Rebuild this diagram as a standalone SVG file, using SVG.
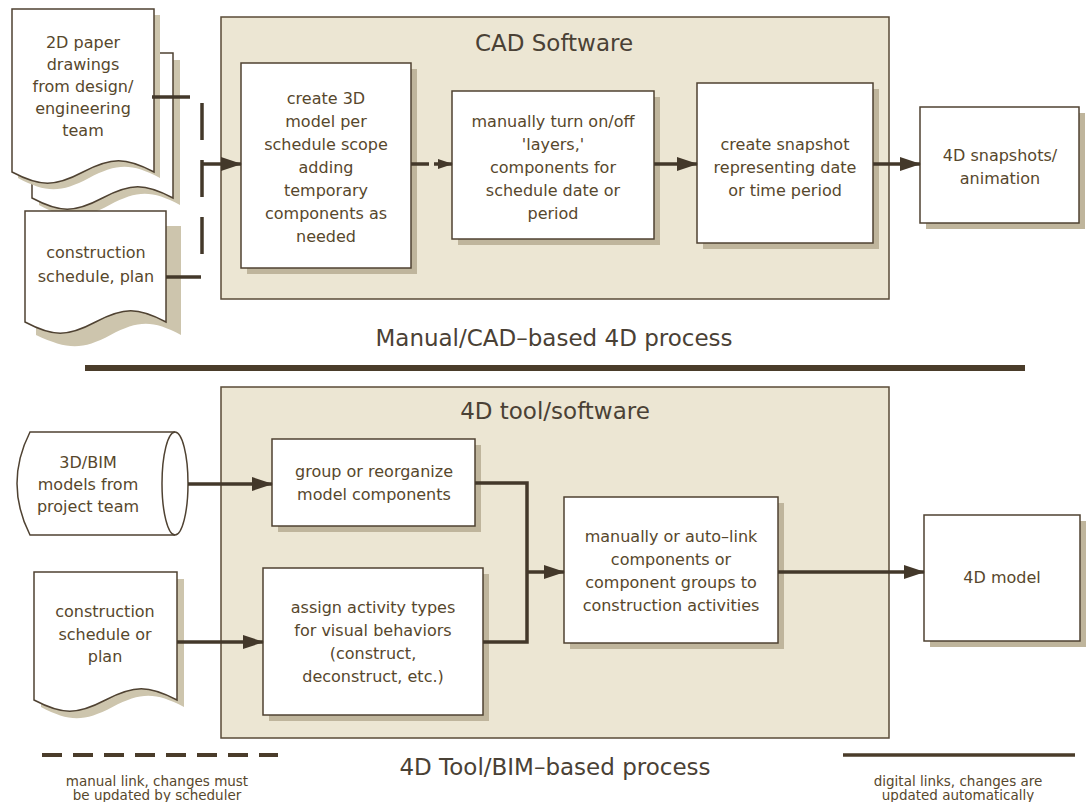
<svg xmlns="http://www.w3.org/2000/svg" width="1086" height="802" viewBox="0 0 1086 802">
  <style>
    .panel { fill: #ece6d3; stroke: #5a4b37; stroke-width: 1.5; }
    .box { fill: #ffffff; stroke: #4f4232; stroke-width: 1.5; }
    .shadow { fill: #bfb59c; }
    .shadow-doc { fill: #cdc5ad; }
    .link { fill: none; stroke: #43382a; stroke-width: 3.5; }
    .manual { fill: none; stroke: #43382a; stroke-width: 3.5; }
    .t { font-family: "DejaVu Sans", "Liberation Sans", sans-serif; font-size: 16px; fill: #57472c; text-anchor: middle; }
    .title { font-family: "DejaVu Sans", "Liberation Sans", sans-serif; font-size: 23px; fill: #4a4135; text-anchor: middle; }
    .small { font-family: "DejaVu Sans", "Liberation Sans", sans-serif; font-size: 13.5px; fill: #57472c; text-anchor: middle; }
  </style>
  <defs>
    <marker id="arrow" markerUnits="userSpaceOnUse" markerWidth="22" markerHeight="16" refX="20" refY="7" orient="auto">
      <path d="M0,0 L21,7 L0,14 Z" fill="#43382a"/>
    </marker>
    <marker id="arrow-small" markerUnits="userSpaceOnUse" markerWidth="16" markerHeight="12" refX="14" refY="5" orient="auto">
      <path d="M0,0 L15,5 L0,10 Z" fill="#43382a"/>
    </marker>
  </defs>

  <rect width="1086" height="802" fill="#ffffff"/>

  <!-- upper panel: manual / CAD-based process -->
  <g id="cad-panel">
    <rect class="panel" x="221" y="17" width="668" height="282"/>
    <text class="title" x="554" y="51">CAD Software</text>
  </g>

  <g id="doc-2d-drawings">
    <path class="shadow-doc" d="M39,60 H180 V205 C151.8,190 137.7,190 109.5,205 C81.3,220 67.2,220 39,205 Z"/>
    <path class="box" d="M32,53 H173 V198 C144.8,183 130.7,183 102.5,198 C74.3,213 60.2,213 32,198 Z"/>
    <path class="shadow-doc" d="M18,15 H160 V178 C131.6,163 117.4,163 89,178 C60.6,193 46.4,193 18,178 Z"/>
    <path class="box" d="M12,9 H154 V172 C125.6,157 111.4,157 83,172 C54.6,187 40.4,187 12,172 Z"/>
    <text class="t" x="83" y="48">2D paper</text>
    <text class="t" x="83" y="70">drawings</text>
    <text class="t" x="83" y="92">from design/</text>
    <text class="t" x="83" y="114">engineering</text>
    <text class="t" x="83" y="136">team</text>
  </g>

  <g id="doc-schedule-plan">
    <path class="shadow-doc" d="M36,226 H181 V335 C152.8,320 138.7,320 110.5,335 C82.3,350 68.2,350 36,335 Z"/>
    <path class="box" d="M25,211 H166 V322 C137.8,307 123.7,307 95.5,322 C67.3,337 53.2,337 25,322 Z"/>
    <text class="t" x="96" y="258">construction</text>
    <text class="t" x="96" y="282">schedule, plan</text>
  </g>

  <g id="create-3d-model">
    <rect class="shadow" x="247" y="69" width="170" height="205"/>
    <rect class="box" x="241" y="63" width="170" height="205"/>
    <text class="t" x="326" y="104">create 3D</text>
    <text class="t" x="326" y="127">model per</text>
    <text class="t" x="326" y="150">schedule scope</text>
    <text class="t" x="326" y="173">adding</text>
    <text class="t" x="326" y="196">temporary</text>
    <text class="t" x="326" y="219">components as</text>
    <text class="t" x="326" y="242">needed</text>
  </g>

  <g id="toggle-layers">
    <rect class="shadow" x="458" y="97" width="202" height="148"/>
    <rect class="box" x="452" y="91" width="202" height="148"/>
    <text class="t" x="553" y="127">manually turn on/off</text>
    <text class="t" x="553" y="150">'layers,'</text>
    <text class="t" x="553" y="173">components for</text>
    <text class="t" x="553" y="196">schedule date or</text>
    <text class="t" x="553" y="219">period</text>
  </g>

  <g id="create-snapshot">
    <rect class="shadow" x="703" y="89" width="176" height="160"/>
    <rect class="box" x="697" y="83" width="176" height="160"/>
    <text class="t" x="785" y="150">create snapshot</text>
    <text class="t" x="785" y="173">representing date</text>
    <text class="t" x="785" y="196">or time period</text>
  </g>

  <g id="snapshots-animation">
    <rect class="shadow" x="926" y="113" width="159" height="116"/>
    <rect class="box" x="920" y="107" width="159" height="116"/>
    <text class="t" x="1000" y="161">4D snapshots/</text>
    <text class="t" x="1000" y="184">animation</text>
  </g>

  <text class="title" x="554" y="346">Manual/CAD–based 4D process</text>

  <!-- divider between the two processes -->
  <line x1="85" y1="368" x2="1025" y2="368" stroke="#4a3c2a" stroke-width="6"/>

  <!-- lower panel: 4D tool / BIM-based process -->
  <g id="tool-panel">
    <rect class="panel" x="221" y="387" width="668" height="351"/>
    <text class="title" x="555" y="419">4D tool/software</text>
  </g>

  <g id="bim-models">
    <path class="box" d="M30,432 H175 A13,51.5 0 0 1 175,535 H30 Q4,483.5 30,432 Z"/>
    <path d="M175,432 A13,51.5 0 0 0 175,535" fill="none" stroke="#4f4232" stroke-width="1.5"/>
    <text class="t" x="88" y="468">3D/BIM</text>
    <text class="t" x="88" y="490">models from</text>
    <text class="t" x="88" y="512">project team</text>
  </g>

  <g id="doc-schedule-or-plan">
    <path class="shadow-doc" d="M41,579 H184 V707 C155.4,692 141.1,692 112.5,707 C83.9,722 69.6,722 41,707 Z"/>
    <path class="box" d="M34,572 H177 V700 C148.4,685 134.1,685 105.5,700 C76.9,715 62.6,715 34,700 Z"/>
    <text class="t" x="105" y="617">construction</text>
    <text class="t" x="105" y="640">schedule or</text>
    <text class="t" x="105" y="662">plan</text>
  </g>

  <g id="group-components">
    <rect class="shadow" x="278" y="445" width="203" height="87"/>
    <rect class="box" x="272" y="439" width="203" height="87"/>
    <text class="t" x="374" y="477">group or reorganize</text>
    <text class="t" x="374" y="500">model components</text>
  </g>

  <g id="assign-activity-types">
    <rect class="shadow" x="269" y="574" width="220" height="147"/>
    <rect class="box" x="263" y="568" width="220" height="147"/>
    <text class="t" x="373" y="613">assign activity types</text>
    <text class="t" x="373" y="636">for visual behaviors</text>
    <text class="t" x="373" y="659">(construct,</text>
    <text class="t" x="373" y="682">deconstruct, etc.)</text>
  </g>

  <g id="link-components">
    <rect class="shadow" x="570" y="503" width="214" height="146"/>
    <rect class="box" x="564" y="497" width="214" height="146"/>
    <text class="t" x="671" y="542">manually or auto–link</text>
    <text class="t" x="671" y="565">components or</text>
    <text class="t" x="671" y="588">component groups to</text>
    <text class="t" x="671" y="611">construction activities</text>
  </g>

  <g id="model-4d">
    <rect class="shadow" x="930" y="521" width="156" height="126"/>
    <rect class="box" x="924" y="515" width="156" height="126"/>
    <text class="t" x="1002" y="583">4D model</text>
  </g>

  <text class="title" x="555" y="775">4D Tool/BIM–based process</text>

  <!-- connectors -->
  <g id="connectors">
    <!-- manual links into the CAD model -->
    <line class="manual" x1="152" y1="97" x2="190" y2="97"/>
    <line class="manual" x1="166" y1="277" x2="201" y2="277"/>
    <line class="manual" x1="202" y1="103" x2="202" y2="255" stroke-dasharray="37 20"/>
    <line class="link" x1="202" y1="164" x2="241" y2="164" marker-end="url(#arrow)"/>
    <line class="link" x1="411" y1="164" x2="452" y2="164" stroke-width="3" stroke-dasharray="18 5" marker-end="url(#arrow-small)"/>
    <line class="link" x1="654" y1="164" x2="697" y2="164" marker-end="url(#arrow)"/>
    <line class="link" x1="873" y1="164" x2="920" y2="164" marker-end="url(#arrow)"/>

    <!-- digital links in the 4D tool -->
    <line class="link" x1="188" y1="484" x2="272" y2="484" marker-end="url(#arrow)"/>
    <line class="link" x1="177" y1="642" x2="263" y2="642" marker-end="url(#arrow)"/>
    <polyline class="link" points="475,483 527,483 527,642 483,642"/>
    <line class="link" x1="527" y1="572" x2="564" y2="572" marker-end="url(#arrow)"/>
    <line class="link" x1="778" y1="572" x2="924" y2="572" marker-end="url(#arrow)"/>
  </g>

  <!-- legend -->
  <g id="legend">
    <line x1="42" y1="755" x2="278" y2="755" stroke="#4a3c2a" stroke-width="4" stroke-dasharray="20 11"/>
    <text class="small" x="157" y="786">manual link, changes must</text>
    <text class="small" x="157" y="800">be updated by scheduler</text>
    <line x1="843" y1="755" x2="1075" y2="755" stroke="#4a3c2a" stroke-width="3.5"/>
    <text class="small" x="958" y="786">digital links, changes are</text>
    <text class="small" x="958" y="800">updated automatically</text>
  </g>
</svg>
